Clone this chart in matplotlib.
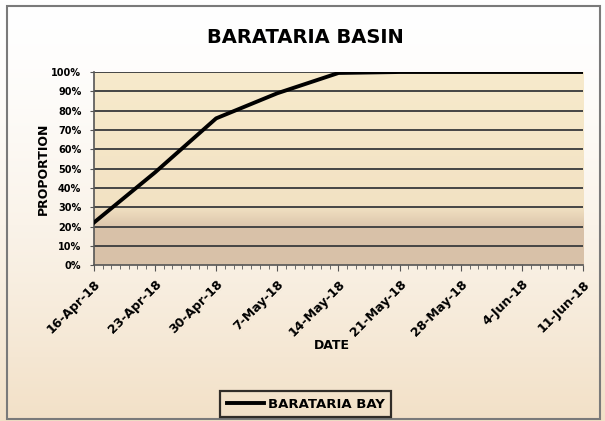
import numpy as np
import pandas as pd
import matplotlib
matplotlib.use('Agg')
import matplotlib.pyplot as plt
import matplotlib.dates as mdates
import matplotlib.transforms as mtransforms
from matplotlib.patches import Rectangle

#*----------------------------------------------------------------
#* Datos
#*----------------------------------------------------------------
dates = ['2018-04-16', '2018-04-23', '2018-04-30', '2018-05-07', '2018-05-14',
         '2018-05-21', '2018-05-28', '2018-06-04', '2018-06-11']
date_labels = ['16-Apr-18', '23-Apr-18', '30-Apr-18', '7-May-18', '14-May-18',
               '21-May-18', '28-May-18', '4-Jun-18', '11-Jun-18']
proportion = [0.22, 0.48, 0.76, 0.89, 0.995, 1.0, 1.0, 1.0, 1.0]
series_name = 'BARATARIA BAY'
title = 'BARATARIA BASIN'
y_ticks = [0.0, 0.1, 0.2, 0.3, 0.4, 0.5, 0.6, 0.7, 0.8, 0.9, 1.0]

x = mdates.date2num(pd.to_datetime(dates))

plt.rcParams['font.family'] = ['Liberation Sans Narrow', 'DejaVu Sans']
plt.rcParams['font.weight'] = 'bold'

fig = plt.figure(figsize=(6.05, 4.21), dpi=100)

# fondo de la figura: degradado blanco -> beige
bg = fig.add_axes([0, 0, 1, 1], zorder=0)
grad = np.linspace(0, 1, 256).reshape(-1, 1)
top_c = np.array([1.0, 1.0, 1.0])
bot_c = np.array([0.95, 0.88, 0.78])
img = top_c + (bot_c - top_c) * grad[..., None] ** 1.5
bg.imshow(img, aspect='auto', extent=[0, 1, 0, 1])
bg.set_xlim(0, 1)
bg.set_ylim(0, 1)
bg.axis('off')
bg.add_patch(Rectangle((0.012, 0.005), 0.98, 0.98, fill=False,
                       edgecolor='#7a7a7a', lw=1.5))

ax = fig.add_axes([0.155, 0.37, 0.809, 0.459], zorder=1)
ax.patch.set_alpha(0)

# area de trazado: degradado crema -> tostado
yy = np.linspace(1, 0, 256)
cream = np.array([0.97, 0.92, 0.80])
cream2 = np.array([0.94, 0.87, 0.75])
tan = np.array([0.85, 0.76, 0.66])
w = np.clip((0.30 - yy) / 0.12, 0, 1)[:, None]
colors = cream + (cream2 - cream) * (1 - yy[:, None])
colors = colors * (1 - w) + tan * w
ax.imshow(colors[:, None, :], aspect='auto', extent=[x[0], x[-1], 0, 1], zorder=0)

for t in y_ticks[1:]:
    ax.axhline(t, color='#454545', lw=1.4, zorder=1)

ax.plot(x, proportion, color='black', lw=2.8, zorder=3, label=series_name)

ax.set_xlim(x[0], x[-1])
ax.set_ylim(0, 1)
ax.set_yticks(y_ticks)
ax.set_yticklabels([f'{int(round(t * 100))}%' for t in y_ticks], fontsize=7)
ax.set_xticks(x)
ax.set_xticklabels(date_labels, rotation=45, ha='right', rotation_mode='anchor',
                   fontsize=9)
# desplaza un poco las etiquetas a la derecha, como en el original
shift = mtransforms.ScaledTranslation(0.05, 0, fig.dpi_scale_trans)
for lbl in ax.get_xticklabels():
    lbl.set_transform(lbl.get_transform() + shift)
ax.xaxis.set_minor_locator(mdates.DayLocator())
ax.tick_params(axis='x', which='major', length=4, color='#555555', pad=5)
ax.tick_params(axis='x', which='minor', length=3, color='#555555')
ax.tick_params(axis='y', length=3, color='#555555', pad=6)

for s in ['top', 'right']:
    ax.spines[s].set_visible(False)
ax.spines['left'].set_color('#555555')
ax.spines['bottom'].set_color('#555555')
ax.spines['left'].set_linewidth(1.2)
ax.spines['bottom'].set_linewidth(1.2)

ax.set_ylabel('PROPORTION', fontsize=9, fontweight='bold', labelpad=1)
fig.text(0.548, 0.18, 'DATE', ha='center', va='center', fontsize=9,
         fontweight='bold')
fig.text(0.505, 0.91, title, ha='center', va='center', fontsize=14,
         fontweight='bold')

leg = fig.legend(loc='center', bbox_to_anchor=(0.505, 0.04), fontsize=9.5,
                 frameon=True, fancybox=False, handlelength=2.8,
                 handletextpad=0.3, borderpad=0.5)
leg.get_frame().set_edgecolor('black')
leg.get_frame().set_linewidth(1.6)
leg.get_frame().set_facecolor('none')

fig.savefig('out.png', dpi=100)
